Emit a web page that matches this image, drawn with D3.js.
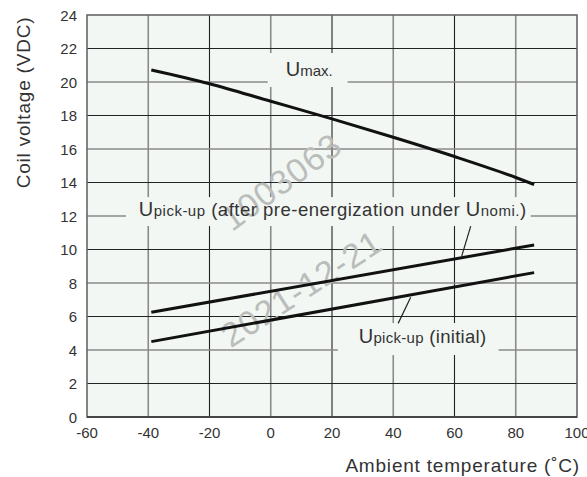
<!DOCTYPE html>
<html><head><meta charset="utf-8">
<script src="https://cdn.jsdelivr.net/npm/d3@7"></script>
<style>
body{margin:0;background:#fff}
text{font-family:Arial,"Liberation Sans",Helvetica,sans-serif;fill:#333}
</style></head>
<body><svg id="c" width="587" height="477"></svg>
<script>
// ---- data ----
const xTicks = [-60,-40,-20,0,20,40,60,80,100];
const yTicks = [0,2,4,6,8,10,12,14,16,18,20,22,24];
const umaxTemp = [-39,-20,0,20,40,60,80,86];
const umaxVal  = [20.72,19.9,18.85,17.8,16.7,15.55,14.3,13.88];
const pickAfterTemp = [-39,86];
const pickAfterVal  = [6.25,10.27];
const pickInitTemp  = [-39,86];
const pickInitVal   = [4.5,8.62];

const W=587,H=477, L=87,R=577,T=15,B=417;
const svg=d3.select("#c");
const x=d3.scaleLinear().domain([-60,100]).range([L,R]);
const y=d3.scaleLinear().domain([0,24]).range([B,T]);
const bg="#f2f7f4", dark="#222", gray="#8a8a8a";

svg.append("rect").attr("x",L).attr("y",T).attr("width",R-L).attr("height",B-T).attr("fill",bg);

// grid
const g=svg.append("g");
g.selectAll("line.v").data(xTicks.slice(1,-1)).join("line")
 .attr("x1",d=>x(d)).attr("x2",d=>x(d)).attr("y1",T).attr("y2",B)
 .attr("stroke",d=>(d%40!==0) ? dark: gray)
 .attr("stroke-width",d=>(d%40===0)?1.6:1.1);
g.selectAll("line.h").data(yTicks.slice(1,-1)).join("line")
 .attr("x1",L).attr("x2",R).attr("y1",d=>y(d)).attr("y2",d=>y(d))
 .attr("stroke",d=>d%4===2?dark:gray)
 .attr("stroke-width",d=>d%4===2?1.1:1.6);
// frame
svg.append("rect").attr("x",L).attr("y",T).attr("width",R-L).attr("height",B-T)
 .attr("fill","none").attr("stroke","#666").attr("stroke-width",1.6);
svg.append("line").attr("x1",L).attr("x2",R).attr("y1",B).attr("y2",B).attr("stroke","#333").attr("stroke-width",1.3);

// label boxes (hide grid)
const boxes=[{t0:-1,t1:25.1,v0:19.7,v1:21.73},{t0:-47.3,t1:84.9,v0:11.4,v1:13.13},{t0:21.9,t1:74.4,v0:3.7,v1:5.61}];
svg.selectAll("rect.box").data(boxes).join("rect")
 .attr("x",d=>x(d.t0)).attr("width",d=>x(d.t1)-x(d.t0))
 .attr("y",d=>y(d.v1)).attr("height",d=>y(d.v0)-y(d.v1)).attr("fill",bg);

// watermark
const wm=svg.append("g");
wm.append("text").attr("transform","translate(283,184) rotate(-36)").attr("text-anchor","middle")
 .attr("dominant-baseline","middle").style("font-size","34px").style("letter-spacing","1px").style("fill","#babdba").text("1003063");
wm.append("text").attr("transform","translate(303,291) rotate(-33)").attr("text-anchor","middle")
 .attr("dominant-baseline","middle").style("font-size","34px").style("letter-spacing","1px").style("fill","#babdba").text("2021-12-21");

// curves
const line=d3.line().x(d=>x(d[0])).y(d=>y(d[1]));
const curve=d3.line().x(d=>x(d[0])).y(d=>y(d[1])).curve(d3.curveMonotoneX);
svg.append("path").attr("d",curve(umaxTemp.map((t,i)=>[t,umaxVal[i]]))).attr("fill","none").attr("stroke","#111").attr("stroke-width",3);
svg.append("path").attr("d",line(pickAfterTemp.map((t,i)=>[t,pickAfterVal[i]]))).attr("fill","none").attr("stroke","#111").attr("stroke-width",3);
svg.append("path").attr("d",line(pickInitTemp.map((t,i)=>[t,pickInitVal[i]]))).attr("fill","none").attr("stroke","#111").attr("stroke-width",3);

// leader lines
const leaders=[[[65.3,11.4],[62.3,9.57]],[[45.7,7.15],[41.6,5.59]]];
svg.selectAll("line.ld").data(leaders).join("line")
 .attr("x1",d=>x(d[0][0])).attr("y1",d=>y(d[0][1])).attr("x2",d=>x(d[1][0])).attr("y2",d=>y(d[1][1]))
 .attr("stroke","#222").attr("stroke-width",1.2);

// labels
function lab(t,v,parts){
  const tx=svg.append("text").attr("x",x(t)).attr("y",y(v));
  parts.forEach(p=>tx.append("tspan").style("font-size",p[1]+"px").text(p[0]));
  return tx;
}
lab(4.9,20.36,[["U",20],["max.",15]]);
lab(-43.1,12.0,[["U",20],["pick-up",15],[" (after pre-energization under ",18.5],["U",20],["nomi.",15],[")",18.5]]).style("letter-spacing","0.5px");
lab(28.7,4.42,[["U",20],["pick-up",15],[" (initial)",18.5]]).style("letter-spacing","0.3px");

// ticks
svg.selectAll("text.yt").data(yTicks).join("text").attr("x",77).attr("y",d=>y(d)+5.5)
 .attr("text-anchor","end").style("font-size","15px").text(d=>d);
svg.selectAll("text.xt").data(xTicks).join("text").attr("x",d=>x(d)).attr("y",438)
 .attr("text-anchor","middle").style("font-size","15px").text(d=>d);

// axis titles
svg.append("text").attr("x",580).attr("y",472).attr("text-anchor","end").style("font-size","19px").style("letter-spacing","0.8px").text("Ambient temperature (˚C)");
svg.append("text").attr("transform","translate(30,102.5) rotate(-90)").attr("text-anchor","middle").style("font-size","19px").style("letter-spacing","0.8px").text("Coil voltage  (VDC)");
</script></body></html>
